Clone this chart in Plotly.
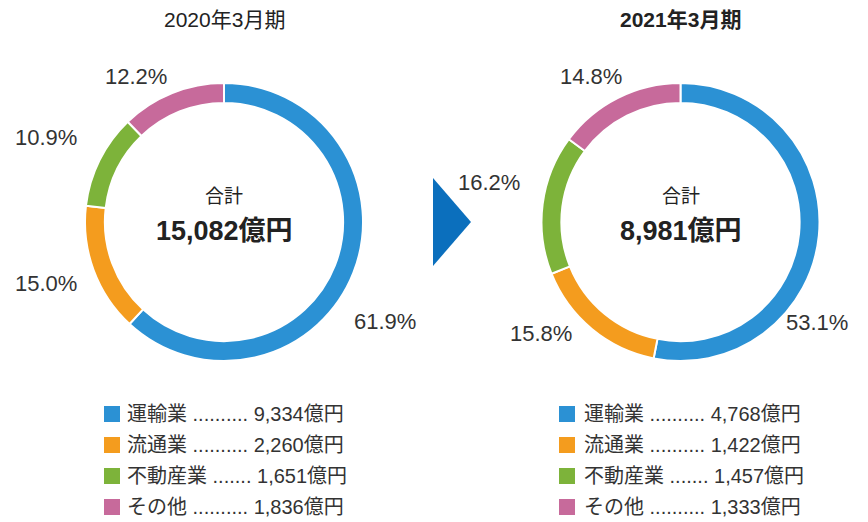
import plotly.graph_objects as go

W, H = 868, 522

categories = ["運輸業", "流通業", "不動産業", "その他"]
values_2020 = [9334, 2260, 1651, 1836]
values_2021 = [4768, 1422, 1457, 1333]
totals = ["15,082億円", "8,981億円"]
titles = ["2020年3月期", "2021年3月期"]
legend_dots = [" .......... ", " .......... ", " ....... ", " .......... "]

colors = ["#2b91d4", "#f49c1e", "#7db33a", "#c76a9b"]
FONT = "Liberation Sans, Noto Sans CJK JP, sans-serif"
TXT = "#222222"


def px(x):
    return x / W


def py(y):
    return 1 - y / H


fig = go.Figure()

# donut geometry (pixels)
centers = [(224, 222), (680.5, 222)]
R = 139
for (cx, cy), vals in zip(centers, [values_2020, values_2021]):
    fig.add_trace(go.Pie(
        labels=categories, values=vals, sort=False, direction="clockwise",
        rotation=0, hole=0.857,
        marker=dict(colors=colors, line=dict(color="white", width=2)),
        textinfo="none", hoverinfo="label+value+percent", showlegend=False,
        domain=dict(x=[px(cx - R), px(cx + R)], y=[py(cy + R), py(cy - R)]),
    ))

ann = []
# titles
for (cx, _), t, bold in zip(centers, titles, [False, True]):
    ann.append(dict(x=px(cx), y=py(20), text=f"<b>{t}</b>" if bold else t,
                    font=dict(size=21, color=TXT, family=FONT)))
# centre texts
for (cx, cy), tot in zip(centers, totals):
    ann.append(dict(x=px(cx), y=py(196), text="合計",
                    font=dict(size=19, color=TXT, family=FONT)))
    ann.append(dict(x=px(cx), y=py(231), text=f"<b>{tot}</b>",
                    font=dict(size=27, color=TXT, family=FONT)))

# percentage labels (label anchor positions, pixels)
label_xy = [
    [(385, 321), (46, 283), (46, 137), (136, 76)],
    [(817, 322), (541, 333), (489, 182), (591, 76)],
]
for vals, xy in zip([values_2020, values_2021], label_xy):
    tot = sum(vals)
    for v, (lx, ly) in zip(vals, xy):
        ann.append(dict(x=px(lx), y=py(ly), text=f"{v / tot * 100:.1f}%",
                        font=dict(size=22, color="#333333", family=FONT)))

# legends
shapes = []
leg_x = [(104, 125), (559, 582)]
row_y = [414, 445, 476, 507]
for (sx, tx), vals in zip(leg_x, [values_2020, values_2021]):
    for i, (c, cat, v) in enumerate(zip(colors, categories, vals)):
        y = row_y[i]
        shapes.append(dict(type="rect", xref="paper", yref="paper",
                           x0=px(sx), x1=px(sx + 16), y0=py(y + 8), y1=py(y - 8),
                           fillcolor=c, line=dict(width=0)))
        ann.append(dict(x=px(tx), y=py(y), xanchor="left",
                        text=f"{cat}{legend_dots[i]}{v:,}億円",
                        font=dict(size=20, color="#333333", family=FONT)))

# arrow triangle
shapes.append(dict(type="path", xref="paper", yref="paper",
                   path=f"M {px(433)} {py(178)} L {px(471)} {py(222)} L {px(433)} {py(266)} Z",
                   fillcolor="#0b6fbd", line=dict(width=0)))

for a in ann:
    a.update(xref="paper", yref="paper", showarrow=False)
    a.setdefault("xanchor", "center")
    a["yanchor"] = "middle"

fig.update_layout(
    width=W, height=H, margin=dict(l=0, r=0, t=0, b=0),
    paper_bgcolor="white", plot_bgcolor="white",
    annotations=ann, shapes=shapes,
)

fig.write_html("out.html", config={"displayModeBar": False},
               post_script="document.body.style.margin='0px';document.body.style.overflow='hidden';")
